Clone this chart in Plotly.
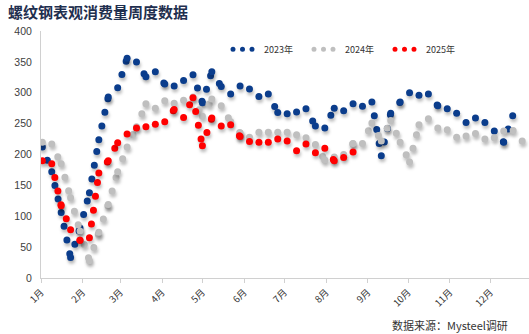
import plotly.graph_objects as go

# ---------------- data ----------------
chart_title = "螺纹钢表观消费量周度数据"
source_text = "数据来源：Mysteel调研"
month_labels = ["1月", "2月", "3月", "4月", "5月", "6月", "7月", "8月", "9月", "10月", "11月", "12月"]
month_start_day = [0, 31, 59, 90, 120, 151, 181, 212, 243, 273, 304, 334]
y_ticks = [0, 50, 100, 150, 200, 250, 300, 350, 400]

first_week_day = 1   # day-of-year offset of the first weekly reading
week_days = 7

v2023 = [212, 172, 106, 33, 81, 138, 224, 293, 308, 356, 350, 326, 334, 314, 311, 320,
         329, 284, 334, 310, 298, 311, 306, 294, 298, 268, 266, 269, 274, 246, 243, 275,
         271, 282, 278, 285, 198, 267, 285, 300, 296, 298, 279, 274, 267, 252, 259, 252,
         238, 220, 265]
v2024 = [220, 217, 185, 130, 76, 28, 74, 119, 172, 212, 245, 282, 275, 287, 283, 288,
         293, 262, 290, 279, 253, 235, 228, 236, 236, 236, 236, 232, 227, 216, 191, 196,
         200, 218, 218, 251, 222, 255, 220, 188, 248, 258, 243, 240, 228, 230, 234, 225,
         227, 238, 239, 221]
v2025 = [190, 185, 117, 78, 61, 65, 170, 190, 219, 233, 243, 245, 249, 253, 273, 260,
         292, 214, 259, 246, 248, 229, 221, 220, 220, 225, 222, 206, 217, 203, 210, 190,
         195, 204, 202]

series = [("2023年", v2023, "#0B3D8C"), ("2024年", v2024, "#BFBFBF"), ("2025年", v2025, "#FF0000")]


def segments(vals):
    """Each week-to-week step as its own sub-path (dot pattern restarts at each point)."""
    xs, ys = [], []
    for k in range(len(vals) - 1):
        xs += [first_week_day + week_days * k, first_week_day + week_days * (k + 1), None]
        ys += [vals[k], vals[k + 1], None]
    return xs, ys


fig = go.Figure()
for name, vals, color in series:
    xs, ys = segments(vals)
    fig.add_trace(go.Scatter(
        x=xs, y=ys, name=name, mode="lines", connectgaps=False,
        line=dict(color=color, width=7, dash="0px,14px"),
        hoverinfo="skip",
    ))

fig.update_layout(
    width=529, height=334,
    margin=dict(l=41, r=0, t=31, b=56),
    paper_bgcolor="white", plot_bgcolor="white",
    font=dict(family="Liberation Sans, Arial, sans-serif", color="#404040"),
    title=dict(text="<b>" + chart_title + "</b>", x=0.015, xanchor="left",
               y=0.963, yanchor="middle",
               font=dict(family="Noto Sans CJK SC", size=15, color="#1F2F4F")),
    showlegend=True,
    legend=dict(orientation="h", x=0.375, xanchor="left", y=0.985, yanchor="top",
                font=dict(family="Noto Sans CJK SC", size=9, color="#333333"),
                entrywidth=36, entrywidthmode="pixels", traceorder="normal",
                bgcolor="rgba(0,0,0,0)"),
    xaxis=dict(range=[0, 362.8], tickmode="array", tickvals=month_start_day, ticktext=month_labels,
               tickangle=-45, showline=True, linecolor="#D0D0D0", linewidth=1,
               ticks="outside", ticklen=4, tickcolor="#D0D0D0",
               showgrid=False, zeroline=False,
               tickfont=dict(family="Noto Sans CJK SC", size=9.5, color="#333333")),
    yaxis=dict(range=[0, 400], tickmode="array", tickvals=y_ticks,
               showline=True, linecolor="#D0D0D0", linewidth=1, ticks="",
               ticklabelstandoff=6,
               showgrid=False, zeroline=False,
               tickfont=dict(family="Liberation Sans, Arial", size=10.5, color="#404040")),
    annotations=[dict(text=source_text, xref="paper", yref="paper", x=0.961, y=-0.189,
                      xanchor="right", yanchor="middle", showarrow=False,
                      font=dict(family="Noto Sans CJK SC", size=11, color="#333333"))],
)

post = """
var st = document.createElement('style');
st.innerHTML = '.scatterlayer .js-line{stroke-linecap:round !important;filter:drop-shadow(1px 3px 1.5px rgba(0,0,0,0.25));}'
 + ' .legend .js-line{stroke-linecap:round !important;stroke-width:5px !important;'
 + 'stroke-dasharray:0px 9.5px 0px 9.5px 0px 30px !important;stroke-dashoffset:-4px !important;}';
document.head.appendChild(st);
"""
fig.write_html("out.html", post_script=post)
